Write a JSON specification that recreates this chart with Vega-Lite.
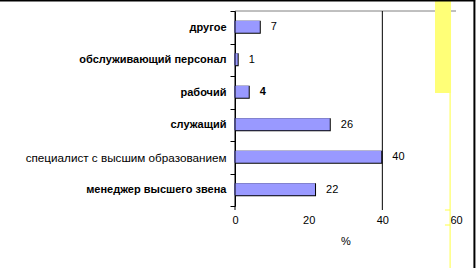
{
  "$schema": "https://vega.github.io/schema/vega-lite/v6.json",
  "width": 221,
  "height": 195,
  "autosize": {"type": "none"},
  "padding": {"left": 235, "top": 11, "right": 20, "bottom": 62},
  "background": "white",
  "config": {
    "view": {"stroke": null},
    "font": "Liberation Sans",
    "axis": {"grid": false, "labelColor": "black", "titleColor": "black", "labelFontSize": 11, "titleFontSize": 11, "labelFont": "Liberation Sans", "titleFont": "Liberation Sans"}
  },
  "datasets": {
    "main": [
      {"cat": "другое", "v": 7},
      {"cat": "обслуживающий персонал", "v": 1},
      {"cat": "рабочий", "v": 4},
      {"cat": "служащий", "v": 26},
      {"cat": "специалист с высшим образованием", "v": 40},
      {"cat": "менеджер высшего звена", "v": 22}
    ]
  },
  "resolve": {"scale": {"y": "independent"}, "axis": {"y": "independent"}},
  "layer": [
    {
      "data": {"name": "main"},
      "encoding": {
        "y": {"field": "cat", "type": "nominal", "sort": null,
          "scale": {"paddingInner": 0, "paddingOuter": 0},
          "axis": {"title": null, "tickBand": "extent", "tickSize": 5, "labelPadding": 4, "labelLimit": 400, "domainColor": "black", "tickColor": "black",
            "labelFontSize": {"condition": {"test": "datum.value == 'специалист с высшим образованием'", "value": 11.7}, "value": 11},
            "labelFontWeight": {"condition": {"test": "datum.value == 'специалист с высшим образованием'", "value": "normal"}, "value": "bold"}}},
        "x": {"field": "v", "type": "quantitative", "scale": {"domain": [0, 60], "nice": false},
          "axis": {"values": [0, 20, 40, 60], "domain": false, "ticks": false, "labelPadding": 8, "title": "%", "titleFontWeight": "normal", "titlePadding": 10, "labelFlush": false}}
      },
      "layer": [
        {"mark": {"type": "bar", "color": "black", "height": 13}},
        {"mark": {"type": "bar", "color": "#9999FF", "height": 12, "yOffset": -0.5, "xOffset": -1}},
        {"transform": [{"filter": "datum.v != 4"}], "mark": {"type": "text", "align": "left", "baseline": "middle", "dx": 10, "fontSize": 11, "color": "black"}, "encoding": {"text": {"field": "v"}}},
        {"transform": [{"filter": "datum.v == 4"}], "mark": {"type": "text", "align": "left", "baseline": "middle", "dx": 10, "fontSize": 11, "fontWeight": "bold", "color": "black"}, "encoding": {"text": {"field": "v"}}}
      ]
    },
    {
      "data": {"values": [{}]},
      "layer": [
        {"mark": {"type": "rule", "color": "#808080", "strokeWidth": 1},
          "encoding": {"x": {"datum": 0, "type": "quantitative", "scale": {"domain": [0, 60], "nice": false}}, "x2": {"datum": 60},
            "y": {"datum": 195, "type": "quantitative", "scale": {"domain": [0, 195], "nice": false, "zero": false}, "axis": null}}},
        {"mark": {"type": "rule", "color": "black", "strokeWidth": 1},
          "encoding": {"x": {"datum": 40, "type": "quantitative"},
            "y": {"datum": 195, "type": "quantitative", "axis": null}, "y2": {"datum": -4}}},
        {"mark": {"type": "rule", "color": "black", "strokeWidth": 1},
          "encoding": {"x": {"datum": 0, "type": "quantitative"},
            "y": {"datum": 195, "type": "quantitative", "axis": null}, "y2": {"datum": -4}}},
        {"mark": {"type": "rect", "color": "#FFFF77", "opacity": 1},
          "encoding": {"x": {"datum": 54.3, "type": "quantitative"}, "x2": {"datum": 58.65},
            "y": {"datum": 206, "type": "quantitative", "axis": null}, "y2": {"datum": 113}}},
        {"mark": {"type": "rule", "color": "#FFFF44", "strokeWidth": 1},
          "encoding": {"x": {"datum": 58.4, "type": "quantitative"},
            "y": {"datum": 113, "type": "quantitative", "axis": null}, "y2": {"datum": -62}}},
        {"mark": {"type": "rule", "color": "#FFFF44", "strokeWidth": 1},
          "encoding": {"x": {"datum": 57.0, "type": "quantitative"}, "x2": {"datum": 58.4},
            "y": {"datum": -4, "type": "quantitative", "axis": null}}},
        {"mark": {"type": "rule", "color": "#FFFF44", "strokeWidth": 1},
          "encoding": {"x": {"datum": 57.0, "type": "quantitative"}, "x2": {"datum": 58.4},
            "y": {"datum": -19, "type": "quantitative", "axis": null}}},
        {"mark": {"type": "rule", "color": "black", "strokeWidth": 2},
          "encoding": {"x": {"datum": -64, "type": "quantitative"}, "x2": {"datum": 65.2},
            "y": {"datum": 205.5, "type": "quantitative", "axis": null}}},
        {"mark": {"type": "rule", "color": "black", "strokeWidth": 2},
          "encoding": {"x": {"datum": 65.0, "type": "quantitative"},
            "y": {"datum": 206, "type": "quantitative", "axis": null}, "y2": {"datum": -62}}}
      ]
    }
  ]
}
